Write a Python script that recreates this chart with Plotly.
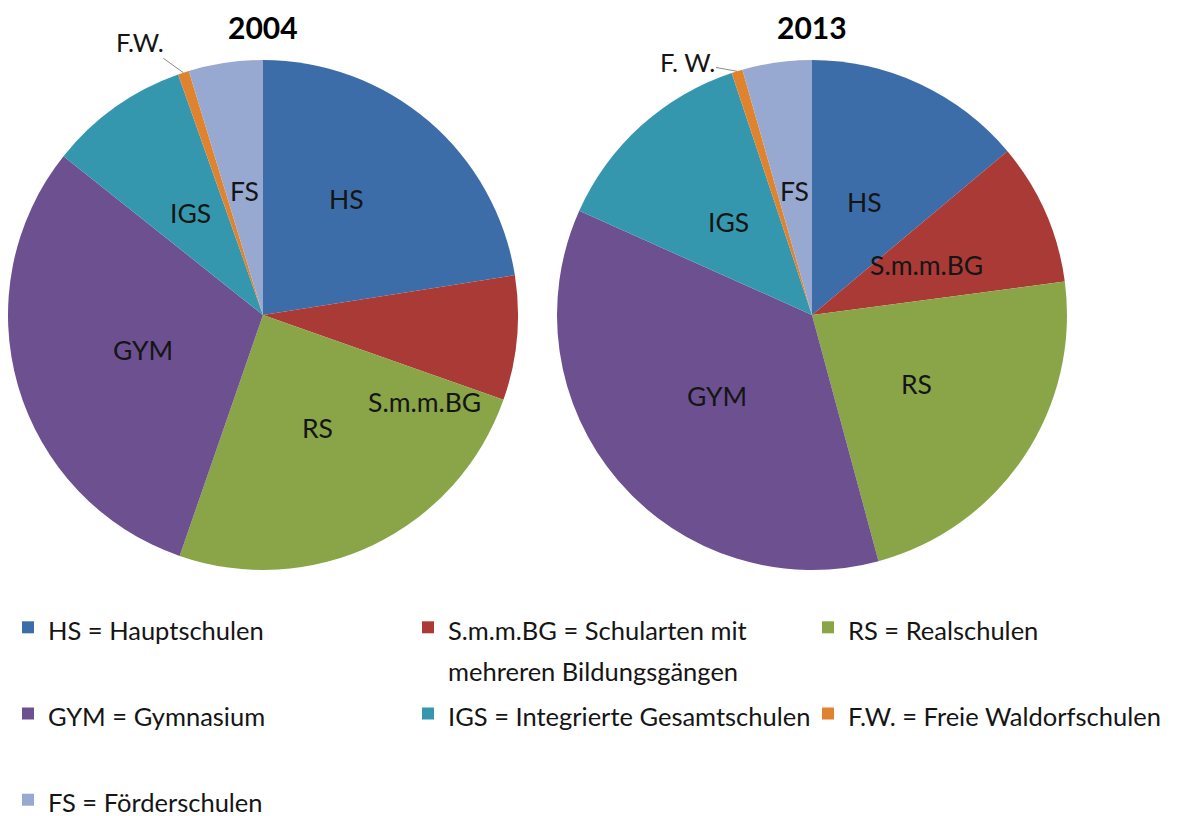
import math
import plotly.graph_objects as go

# ---- data ----
codes = ["HS", "S.m.m.BG", "RS", "GYM", "IGS", "F.W.", "FS"]
legend_names = [
    "HS = Hauptschulen",
    "S.m.m.BG = Schularten mit<br>mehreren Bildungsgängen",
    "RS = Realschulen",
    "GYM = Gymnasium",
    "IGS = Integrierte Gesamtschulen",
    "F.W. = Freie Waldorfschulen",
    "FS = Förderschulen",
]
share_2004 = [22.5, 7.9, 24.9, 30.4, 8.9, 0.7, 4.7]
share_2013 = [13.9, 9.0, 22.9, 35.9, 13.2, 0.7, 4.4]
years = ["2004", "2013"]
fw_labels = ["F.W.", "F. W."]

colors = ["#3C6DA8", "#AA3A35", "#89A547", "#6C5090", "#3597AE", "#E0832F", "#97A9D1"]

W, H = 1198, 816
OFF = 8  # page body margin
FONT = "Lato, 'Open Sans', sans-serif"
LABEL_SIZE = 26.5
LEGEND_SIZE = 25.5

# pie boxes (page pixels)
boxes = [(8, 518), (557, 1067)]
y_top, y_bot = 60, 570

# label placement: fraction of radius, angle nudge (deg) -- best-fit moves
LABEL_R = 0.49
label_moves = {(0, "HS"): (0.56, -4.5), (0, "S.m.m.BG"): (0.72, 23.0)}


def px_x(x):
    return (x - OFF) / W


def px_y(y):
    return 1 - (y - OFF) / H


def legend_label(n):
    parts = n.split("<br>")
    if len(parts) == 1:
        parts.append(" ")
    return "<br>".join("<span style='font-size:%spx'>%s</span>" % (LEGEND_SIZE, p) for p in parts)


fig = go.Figure()
for i, (vals, yr) in enumerate(zip([share_2004, share_2013], years)):
    x0, x1 = boxes[i]
    fig.add_trace(go.Pie(
        labels=[legend_label(n) for n in legend_names],
        values=vals,
        textinfo="none",
        marker=dict(colors=colors, line=dict(width=0)),
        sort=False,
        direction="clockwise",
        rotation=0,
        domain=dict(x=[px_x(x0), px_x(x1)], y=[px_y(y_bot), px_y(y_top)]),
        hovertext=codes,
        hoverinfo="text+value",
        showlegend=(i == 0),
    ))

annotations = []
for i, (vals, yr) in enumerate(zip([share_2004, share_2013], years)):
    x0, x1 = boxes[i]
    cx = (x0 + x1) / 2
    cy = (y_top + y_bot) / 2
    R = (x1 - x0) / 2
    total = sum(vals)
    annotations.append(dict(
        x=px_x(cx), y=1.0, xref="paper", yref="paper",
        xanchor="center", yanchor="top", borderpad=0,
        text="<b>%s</b>" % yr, showarrow=False,
        font=dict(family=FONT, size=30, color="#000000"),
    ))
    cum = 0.0
    for k, (c, v) in enumerate(zip(codes, vals)):
        mid = (cum + v / 2) / total * 360.0
        cum += v
        if c == "F.W.":
            a = math.radians(mid)
            tx = cx + R * math.sin(a)
            ty = cy - R * math.cos(a)
            ax, ay = [(-43, -31), (-50, -9)][i]
            annotations.append(dict(
                x=px_x(tx), y=px_y(ty), xref="paper", yref="paper",
                text=fw_labels[i], showarrow=True, arrowhead=0, arrowwidth=1,
                arrowcolor="#8a8a8a", ax=ax, ay=ay, standoff=0,
                font=dict(family=FONT, size=LABEL_SIZE - 1, color="#151515"),
            ))
            continue
        rf, da = label_moves.get((i, c), (LABEL_R, 0.0))
        a = math.radians(mid + da)
        lx = cx + rf * R * math.sin(a)
        ly = cy - rf * R * math.cos(a)
        annotations.append(dict(
            x=px_x(lx), y=px_y(ly), xref="paper", yref="paper",
            xanchor="center", yanchor="middle",
            text=c, showarrow=False,
            font=dict(family=FONT, size=LABEL_SIZE, color="#151515"),
        ))

fig.update_layout(
    width=W, height=H,
    margin=dict(l=0, r=0, t=0, b=0, autoexpand=False),
    paper_bgcolor="white",
    plot_bgcolor="white",
    annotations=annotations,
    legend=dict(
        orientation="h",
        x=0, xanchor="left",
        y=px_y(600), yanchor="top",
        font=dict(family=FONT, size=32, color="#151515"),
        entrywidth=355, entrywidthmode="pixels",
        valign="top",
        traceorder="normal",
    ),
)

fig.write_html("out.html")
